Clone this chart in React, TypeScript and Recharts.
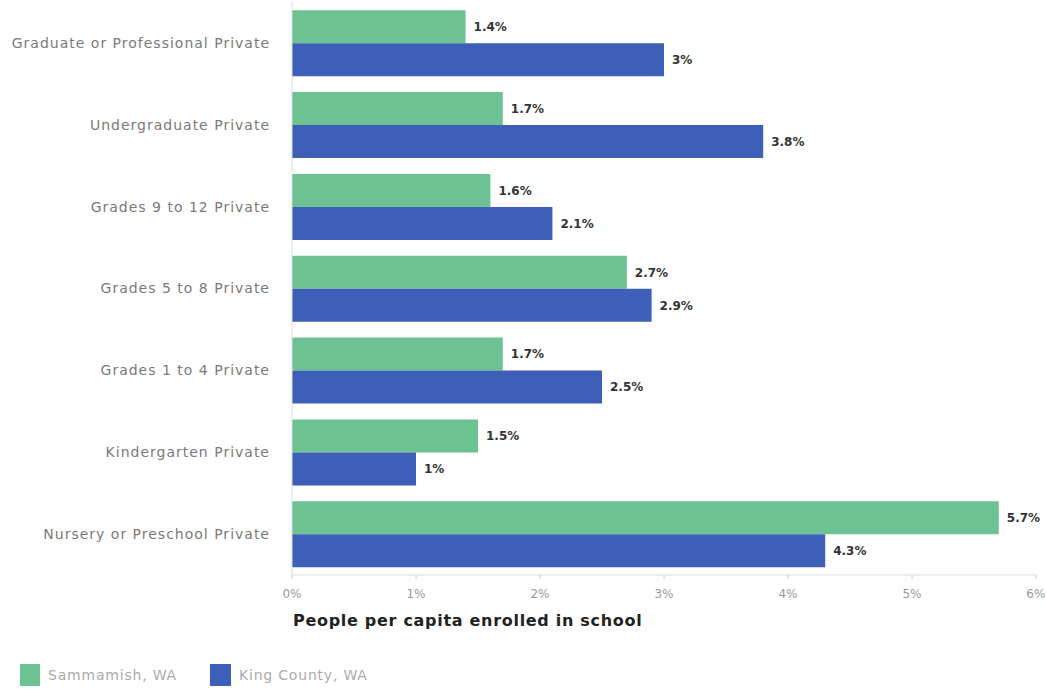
import { Bar, BarChart, LabelList, Legend, XAxis, YAxis } from "recharts";

const categories = [
  "Graduate or Professional Private",
  "Undergraduate Private",
  "Grades 9 to 12 Private",
  "Grades 5 to 8 Private",
  "Grades 1 to 4 Private",
  "Kindergarten Private",
  "Nursery or Preschool Private",
];
const sammamish = [1.4, 1.7, 1.6, 2.7, 1.7, 1.5, 5.7];
const kingCounty = [3, 3.8, 2.1, 2.9, 2.5, 1, 4.3];
const xTicks = [0, 1, 2, 3, 4, 5, 6];

const data = categories.map((name, i) => ({
  name,
  sammamish: sammamish[i],
  king: kingCounty[i],
}));

const GREEN = "#6cc293";
const BLUE = "#3e5fb7";
const FONT = "'DejaVu Sans', sans-serif";

const AxisTitle = (props: any) => {
  const vb = props.viewBox || { x: 0, y: 0 };
  return (
    <text
      x={vb.x + 1}
      y={vb.y + 51}
      fill="#222"
      fontSize={16}
      fontWeight={700}
      letterSpacing={0.7}
      fontFamily={FONT}
    >
      People per capita enrolled in school
    </text>
  );
};

const LegendContent = () => (
  <div
    style={{
      display: "flex",
      alignItems: "center",
      fontFamily: FONT,
      fontSize: 14,
      letterSpacing: 0.8,
      color: "#ababab",
      transform: "translateY(5px)",
    }}
  >
    <span style={{ width: 20, height: 22, background: GREEN, display: "inline-block", marginRight: 8 }} />
    <span style={{ marginRight: 33 }}>Sammamish, WA</span>
    <span style={{ width: 21, height: 22, background: BLUE, display: "inline-block", marginRight: 8 }} />
    <span>King County, WA</span>
  </div>
);

const labelStyle = { fill: "#333", fontSize: 12, fontWeight: 700, fontFamily: FONT };

export default function App() {
  return (
    <div style={{ position: "absolute", top: 0, left: 0, width: 1046, height: 691, background: "#fff" }}>
      <BarChart
        width={1046}
        height={691}
        data={data}
        layout="vertical"
        margin={{ top: 2, right: 10, left: 8, bottom: 0 }}
        barCategoryGap="10%"
        barGap={0}
      >
        <XAxis
          type="number"
          domain={[0, 6]}
          ticks={xTicks}
          tickFormatter={(v) => `${v}%`}
          axisLine={{ stroke: "#ddd" }}
          tickLine={{ stroke: "#ccc" }}
          tickSize={4}
          tickMargin={10}
          tick={{ fill: "#999", fontSize: 12, fontFamily: FONT }}
          height={75}
          label={<AxisTitle />}
        />
        <YAxis
          type="category"
          dataKey="name"
          width={284}
          axisLine={{ stroke: "#ddd" }}
          tickLine={false}
          tickSize={0}
          tickMargin={22}
          tick={{ fill: "#7a7a7a", fontSize: 14, fontFamily: FONT, letterSpacing: 1 }}
        />
        <Legend
          verticalAlign="bottom"
          align="left"
          content={<LegendContent />}
          wrapperStyle={{ left: 20, height: 32, paddingTop: 9 }}
        />
        <Bar dataKey="sammamish" name="Sammamish, WA" fill={GREEN} isAnimationActive={false}>
          <LabelList
            dataKey="sammamish"
            position="right"
            offset={8}
            formatter={(v: any) => `${v}%`}
            style={labelStyle}
          />
        </Bar>
        <Bar dataKey="king" name="King County, WA" fill={BLUE} isAnimationActive={false}>
          <LabelList
            dataKey="king"
            position="right"
            offset={8}
            formatter={(v: any) => `${v}%`}
            style={labelStyle}
          />
        </Bar>
      </BarChart>
    </div>
  );
}
